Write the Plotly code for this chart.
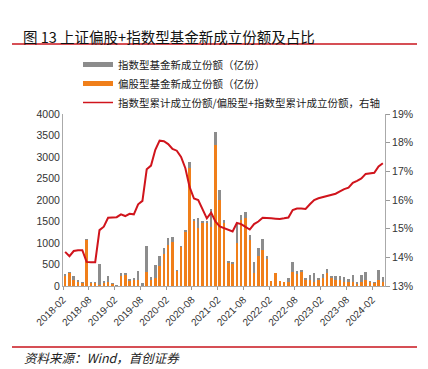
import plotly.graph_objects as go

months = [f"{2018 + (1 + i) // 12}-{(1 + i) % 12 + 1:02d}" for i in range(75)]

equity_new = [255, 305, 132, 100, 80, 1075, 85, 85, 30, 80, 93, 55, 5, 233, 265, 124, 150, 132, 20, 334,
              132, 179, 459, 739, 949, 1035, 350, 910, 1276, 2739, 1530, 1338, 1478, 1480, 1361, 3290, 1990, 1460, 551, 512,
              1007, 1535, 1574, 1070, 310, 705, 837, 620, 116, 295, 116, 89, 93, 318, 279, 318, 140, 140, 93, 140,
              176, 310, 202, 140, 140, 93, 93, 93, 54, 93, 140, 93, 70, 140, 93]
total_new = [265, 311, 233, 124, 93, 1081, 93, 93, 513, 124, 225, 62, 15, 295, 280, 171, 171, 358, 62, 941,
             218, 498, 708, 887, 1105, 1136, 366, 926, 1299, 2886, 1556, 1587, 1494, 1502, 1785, 3588, 2232, 1535, 589, 551,
             1458, 1651, 1729, 1186, 551, 876, 1085, 698, 116, 295, 116, 89, 178, 566, 349, 372, 178, 256, 310, 178,
             279, 388, 233, 233, 233, 202, 155, 256, 93, 256, 318, 116, 93, 372, 217]
index_new = [t - e for t, e in zip(total_new, equity_new)]
index_share = [14.19, 14.04, 14.22, 14.25, 14.25, 13.84, 13.83, 13.83, 14.95, 15.07,
               15.38, 15.38, 15.40, 15.50, 15.44, 15.52, 15.50, 15.85, 15.97, 17.07,
               17.20, 17.75, 18.07, 18.05, 17.95, 17.78, 17.72, 17.50, 17.11, 16.45,
               16.05, 16.00, 15.70, 15.36, 15.56, 15.25, 15.08, 15.02, 14.98, 14.90,
               15.20, 15.16, 15.06, 14.97, 15.16, 15.25, 15.38, 15.36, 15.36, 15.35,
               15.34, 15.36, 15.39, 15.65, 15.70, 15.70, 15.69, 15.85, 16.00, 16.06,
               16.10, 16.12, 16.16, 16.22, 16.30, 16.38, 16.43, 16.60, 16.67, 16.75,
               16.91, 16.93, 16.95, 17.17, 17.28]

name_index = "指数型基金新成立份额（亿份）"
name_equity = "偏股型基金新成立份额（亿份）"
name_line = "指数型累计成立份额/偏股型+指数型累计成立份额，右轴"

GRAY = "#8c8c8c"
ORANGE = "#F07F1A"
RED = "#D0141C"
CJK = "Noto Sans CJK SC"
NUM = "Liberation Sans, Arial"

PW, PH = 322, 172  # plot area size in px


def px(xp):
    return (xp - 63) / PW


def py(yp):
    return (286 - yp) / PH


x = list(range(len(months)))

fig = go.Figure()
fig.add_trace(go.Bar(x=x, y=equity_new, marker_color=ORANGE, marker_line_width=0,
                     showlegend=False, name=name_equity))
fig.add_trace(go.Bar(x=x, y=index_new, marker_color=GRAY, marker_line_width=0,
                     showlegend=False, name=name_index))
fig.add_trace(go.Scatter(x=x, y=index_share, yaxis="y2", mode="lines",
                         line=dict(color=RED, width=2), showlegend=False, name=name_line))
# legend entries
for nm, col, w, rk in [(name_index, GRAY, 5, 1), (name_equity, ORANGE, 5, 2), (name_line, RED, 1.5, 3)]:
    fig.add_trace(go.Scatter(x=[None], y=[None], mode="lines", line=dict(color=col, width=w),
                             name=nm, legendrank=rk, showlegend=True))

tick_idx = list(range(0, 75, 6))
fig.update_layout(
    width=428, height=369,
    margin=dict(l=63, r=43, t=114, b=83, autoexpand=False),
    paper_bgcolor="white", plot_bgcolor="white",
    barmode="stack", bargap=0.42,
    font=dict(family=CJK, size=10, color="#333333"),
    legend=dict(x=px(78), y=py(50), xref="paper", yref="paper", xanchor="left", yanchor="top",
                font=dict(family=CJK, size=10.5, color="#222222"), traceorder="normal",
                bgcolor="rgba(0,0,0,0)", itemwidth=30, tracegroupgap=0),
    xaxis=dict(range=[-0.5, 74.5], tickmode="array", automargin=False,
               tickvals=[i - 0.5 for i in tick_idx], ticktext=[months[i] for i in tick_idx],
               tickangle=-45, ticks="outside", ticklen=3, tickcolor="#999999",
               showline=True, linecolor="#aaaaaa", linewidth=1, showgrid=False, zeroline=False,
               tickfont=dict(family=NUM, size=10, color="#333333")),
    yaxis=dict(range=[0, 4000], dtick=500, showline=True, linecolor="#aaaaaa", linewidth=1,
               showgrid=False, zeroline=False, ticks="", automargin=False,
               tickfont=dict(family=NUM, size=10.5, color="#333333")),
    yaxis2=dict(range=[13, 19], dtick=1, overlaying="y", side="right", ticksuffix="%",
                showline=True, linecolor="#aaaaaa", linewidth=1, showgrid=False, zeroline=False,
                ticks="outside", ticklen=4, tickcolor="#999999", automargin=False,
                tickfont=dict(family=NUM, size=10.5, color="#333333")),
    shapes=[
        dict(type="line", xref="paper", yref="paper", x0=px(12), x1=px(417), y0=py(44), y1=py(44),
             line=dict(color="#C8141C", width=1.5)),
        dict(type="line", xref="paper", yref="paper", x0=px(12), x1=px(417), y0=py(347), y1=py(347),
             line=dict(color="#C8141C", width=1.5)),
    ],
    annotations=[
        dict(text="图 13 上证偏股+指数型基金新成立份额及占比", xref="paper", yref="paper",
             x=px(21), y=py(36), xanchor="left", yanchor="middle", showarrow=False,
             font=dict(family=CJK, size=14.5, color="#111111")),
        dict(text="<i>资料来源：Wind，首创证券</i>", xref="paper", yref="paper",
             x=px(22), y=py(357), xanchor="left", yanchor="middle", showarrow=False,
             font=dict(family=CJK, size=12.5, color="#222222")),
    ],
)

fig.write_html("out.html", config={"displayModeBar": False},
               post_script="document.body.style.margin='0';")
